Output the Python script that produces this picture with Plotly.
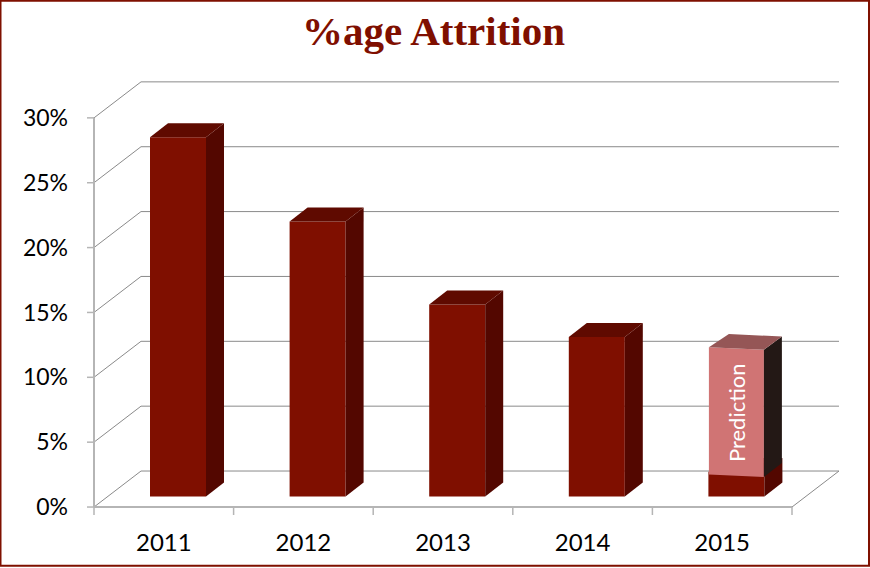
import plotly.graph_objects as go

# ---- data ----
years = ["2011", "2012", "2013", "2014", "2015"]
category_positions = [1, 2, 3, 4, 5]
attrition_actual = [27.7, 21.2, 14.8, 12.3, 1.9]
prediction_year_position = 5
prediction_top = 11.5
prediction_base = 1.7
y_ticks = [0, 5, 10, 15, 20, 25, 30]
y_tick_labels = ["0%", "5%", "10%", "15%", "20%", "25%", "30%"]
x_boundaries = [0.5, 1.5, 2.5, 3.5, 4.5, 5.5]

# ---- pseudo-3D geometry (data units) ----
PX_X = 139.6   # pixels per category
PX_Y = 12.97   # pixels per percent
WALL_DX, WALL_DY = 47 / PX_X, 36 / PX_Y
BAR_SHIFT_X, BAR_BASE = 14.2 / PX_X, 10.5 / PX_Y
BAR_W = 56 / PX_X
SIDE_DX, SIDE_DY = 18 / PX_X, 14 / PX_Y

RED = "#7f0f00"
SIDE = "#530700"
TOP = "#5f0a00"
GRID = "#8a8a8a"
AXIS = "#b5b5b5"
FONT = "Lato"

fig = go.Figure()


def poly(xs, ys, color):
    fig.add_trace(go.Scatter(x=xs, y=ys, mode="lines", fill="toself", fillcolor=color,
                             line=dict(width=0, color=color), hoverinfo="skip", showlegend=False))


def line(x0, y0, x1, y1, color, width):
    fig.add_shape(type="line", x0=x0, y0=y0, x1=x1, y1=y1, xref="x", yref="y",
                  layer="below", line=dict(color=color, width=width))


# walls and floor
x_left, x_right = x_boundaries[0], x_boundaries[-1]
for t in y_ticks:
    line(x_left, t, x_left + WALL_DX, t + WALL_DY, GRID, 1)
    line(x_left + WALL_DX, t + WALL_DY, x_right + WALL_DX, t + WALL_DY, GRID, 1)
    line(x_left - 7 / PX_X, t, x_left, t, AXIS, 1.5)
line(x_left, 0, x_left, y_ticks[-1], AXIS, 2)
line(x_left, 0, x_right, 0, AXIS, 2)
line(x_right, 0, x_right + WALL_DX, WALL_DY, GRID, 1)
for b in x_boundaries:
    line(b, 0, b, -8 / PX_Y, AXIS, 1.5)

# bar fronts
bar_x = [p + BAR_SHIFT_X for p in category_positions]
fig.add_trace(go.Bar(x=bar_x, y=attrition_actual, base=[BAR_BASE] * len(years), width=BAR_W,
                     marker=dict(color=RED, line=dict(width=0)), hoverinfo="skip", showlegend=False))

# bar sides and tops
for cx, v in zip(bar_x, attrition_actual):
    xr = cx + BAR_W / 2
    xl = cx - BAR_W / 2
    top = BAR_BASE + v
    poly([xr, xr + SIDE_DX, xr + SIDE_DX, xr, xr],
         [BAR_BASE, BAR_BASE + SIDE_DY, top + SIDE_DY, top, BAR_BASE], SIDE)
    poly([xl, xl + SIDE_DX, xr + SIDE_DX, xr, xl],
         [top, top + SIDE_DY, top + SIDE_DY, top, top], TOP)

# prediction overlay on the 2015 bar
cx = prediction_year_position + BAR_SHIFT_X
xl, xr = cx - BAR_W / 2 + 0.5 / PX_X, cx + BAR_W / 2 - 0.5 / PX_X
slant = 2.5 / PX_Y
p_top = BAR_BASE + prediction_top
p_base = BAR_BASE + prediction_base
poly([xl, xr, xr, xl, xl], [p_base, p_base - slant, p_top - slant, p_top, p_base], "#d07474")
poly([xr, xr + SIDE_DX, xr + SIDE_DX, xr, xr],
     [p_base - slant, p_base - slant + SIDE_DY, p_top - slant + SIDE_DY - 0.05, p_top - slant, p_base - slant], "#231815")
poly([xl, xl + SIDE_DX + 2 / PX_X, xr + SIDE_DX, xr, xl],
     [p_top, p_top + SIDE_DY - 0.05, p_top + SIDE_DY - slant - 0.05, p_top - slant, p_top], "#955656")

fig.add_annotation(x=cx - 0.5 / PX_X, y=BAR_BASE + 6.5, xref="x", yref="y", text="Prediction", textangle=-90,
                   showarrow=False, font=dict(family=FONT, size=22, color="white"))
fig.add_annotation(x=0.5, y=1, xref="paper", yref="paper", xanchor="center", yanchor="middle",
                   text="%age Attrition", showarrow=False, xshift=(433 - (84 + 761 / 2)), yshift=(77 - 31),
                   font=dict(family="Liberation Serif", size=41, color=RED, weight="bold"))

# outer frame
fig.add_shape(type="rect", xref="paper", yref="paper", x0=-84 / 761 + 0.5 / 761, x1=(869 - 84) / 761,
              y0=-46 / 445, y1=1 + 76.5 / 445, layer="above", line=dict(color="#7f1000", width=2))

fig.update_layout(
    width=870, height=568, margin=dict(l=84, r=25, t=77, b=46),
    paper_bgcolor="white", plot_bgcolor="white", barmode="overlay", showlegend=False,
    xaxis=dict(range=[x_left - 10 / PX_X, x_left + 751 / PX_X], tickmode="array",
               tickvals=category_positions, ticktext=years, showgrid=False, zeroline=False,
               showline=False, ticks="", ticklabelstandoff=6,
               tickfont=dict(family=FONT, size=24, color="black")),
    yaxis=dict(range=[-1, 33.15], tickmode="array", tickvals=y_ticks, ticktext=y_tick_labels,
               showgrid=False, zeroline=False, showline=False, ticks="", ticklabelstandoff=15,
               tickfont=dict(family=FONT, size=23, color="black")),
)

fig.write_html("out.html", config=dict(displayModeBar=False),
               post_script="document.body.style.margin='0';document.body.style.overflow='hidden';")
